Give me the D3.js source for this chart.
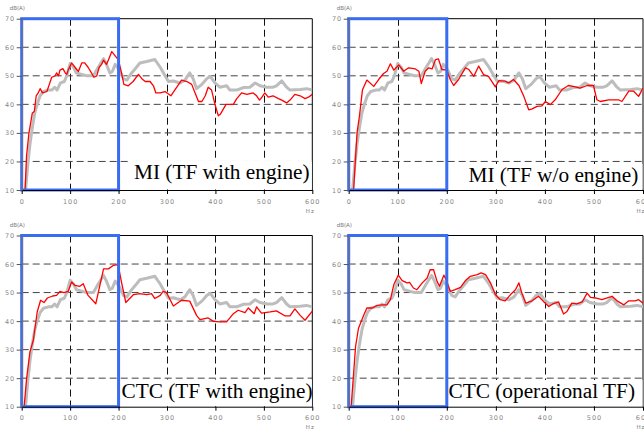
<!DOCTYPE html>
<html>
<head>
<meta charset="utf-8">
<script src="https://cdn.jsdelivr.net/npm/d3@7"></script>
<style>
  body { margin: 0; background: #fff; }
  svg { display: block; }
</style>
</head>
<body>
<div id="chart"></div>
<script>
// measured reference (gray), same in every panel
var freqGray = [8,12,17,22,27,32,38,45,55,62,68,73,80,88,93,100,107,113,124,134,148,158,169,175,182,187,193,202,210,217,227,237,244,258,275,286,296,303,313,327,337,347,354,361,372,382,389,399,409,423,430,444,458,471,482,492,506,519,526,537,547,554,575,588,600];
var dbGray = [10,18,26,32,37,40,43,44.5,45,45,46,45,47.5,48,50,54.3,53,51,50.5,50,50,53,56,54,51,51.5,54,52,49,48.5,51,53,54.5,55,55.7,53,50,48,48.2,47.5,48.5,51,49,45.5,47,49,49.8,47.5,46,46.5,45,45,45.9,46,47.5,46.5,46,46,46.5,48.2,46,45,45.2,45.5,45];

// MI (TF with engine)
var freqMI1 = [7,10,15,22,26,30,34,38,43,52,57,62,69,72,76,79,85,90,93,96,103,110,117,124,130,137,144,149,155,160,165,169,175,179,186,193,200,206,211,220,230,241,248,255,265,272,277,286,296,308,316,330,341,351,358,365,372,379,385,392,399,406,410,415,422,430,437,444,454,465,478,485,491,496,502,509,519,530,537,547,554,564,575,585,592,600];
var dbMI1 = [10,22,30,37,37.5,43,44,45.5,44,44.5,47,49.5,50,51,50,52,52.5,51,50.5,52,54.5,53,51.5,54.5,54.5,53,51,49.5,50,53,54,55.5,54,55.5,58.5,57,55.5,51,47,46.5,48,50.5,49,48,48,46.5,44,44,44.5,43,45,48.5,48,47,44,41,41,43,46,45,40,36,36.5,38,40,40,40,42,44,43.5,44,43,41.5,42.5,44,42.5,43,42,41.5,40.5,41.5,43.5,43,42,42.5,43.5];

// MI (TF w/o engine)
var freqMI2 = [10,17,22,28,37,51,61,71,78,85,92,102,112,122,136,143,148,156,163,170,177,183,190,200,207,214,224,238,245,255,265,275,285,299,306,319,326,336,347,357,367,374,384,394,401,411,421,435,448,462,472,486,499,506,513,530,550,557,571,581,591,600];
var dbMI2 = [10,30,36,45,48.5,46.3,48.7,50.8,51.6,54.2,52,53.8,51.6,52.8,52.4,51.6,47.3,51.6,52.8,52.4,55.7,55.9,52.2,52,48.7,46.6,48.7,52.8,52.2,49.8,53.4,50.4,49.8,46.1,48.3,48.1,47.5,48.7,46.6,42.8,38.1,38.4,39.3,39.5,41,39.9,41.6,45.2,46.6,46.1,45.7,46.6,46.6,41.6,41,41.6,41.6,41,44.6,44.6,42.8,45.7];

// CTC (TF with engine)
var freqCTC1 = [5,10,17,24,32,39,46,53,64,72,79,87,96,103,110,120,127,137,153,169,179,189,199,206,215,231,244,258,268,275,286,292,299,313,330,347,361,368,385,396,409,423,437,447,461,468,480,485,495,513,526,544,554,564,575,585,600];
var dbCTC1 = [10,19.7,29.2,33.3,43.2,47.3,46.5,48.1,48.8,49,50.4,50,50.4,53.7,52.5,52.2,53.1,49,46.1,58.3,58.3,59.5,59.8,53.7,46.5,49.3,49.6,49.3,49.6,47.9,49,50.4,50,45.3,47.3,47,42,40.5,41.1,39.9,39.7,39.7,42.6,43.8,43,44.6,42.6,45,42.8,43.2,43.6,41.8,41.8,44.3,42,40.3,43.5];

// CTC (operational TF)
var freqCTC2 = [5,14,20,31,37,48,58,68,78,85,92,101,109,119,124,132,139,150,160,166,173,180,185,194,200,207,217,228,238,248,262,270,279,289,299,309,319,330,340,347,353,361,374,387,397,408,416,428,438,445,455,465,476,486,493,503,516,527,537,547,561,571,584,591,600];
var dbCTC2 = [10,31.1,37.5,42.2,44.6,44.6,45.5,45.7,45.7,47.5,52.8,56.1,54.2,53.4,53.6,51.6,51,53.4,55.1,58,58,54,52.2,56.1,54,50.4,51,51.8,54.2,55.7,56.3,56.9,56.3,53.4,49.3,47.5,47.1,49.3,51,53.4,49.8,46.3,47.1,48.7,46.9,45.1,46,46.7,42.5,43.4,46.3,46,46.7,49.8,48.3,48.1,47.5,48.1,48.7,47.1,45.7,47.1,47.1,47.5,46.3];

var titles = ["MI (TF with engine)", "MI (TF w/o engine)", "CTC (TF with engine)", "CTC (operational TF)"];
var xTicks = [0, 100, 200, 300, 400, 500, 600];
var yTicks = [10, 20, 30, 40, 50, 60, 70];
var bandLimit = 200; // blue box: 0 .. 200 Hz

var redFreq = [freqMI1, freqMI2, freqCTC1, freqCTC2];
var redDb = [dbMI1, dbMI2, dbCTC1, dbCTC2];

// layout
var cols = [[21.7, 312.3], [348.7, 643]];
var rows = [[18.7, 190], [235.5, 406.7]];
var titleX = [134, 468.5, 121.5, 448.5];
var titleY = [178.5, 182, 397.5, 398];

var svg = d3.select("#chart")
  .append("svg")
  .attr("width", 644)
  .attr("height", 432);

titles.forEach(function (title, i) {
  var c = cols[i % 2], r = rows[Math.floor(i / 2)];
  var x = d3.scaleLinear().domain([0, 600]).range(c);
  var y = d3.scaleLinear().domain([10, 70]).range([r[1], r[0]]);
  var g = svg.append("g");

  g.append("clipPath").attr("id", "clip" + i)
    .append("rect")
    .attr("x", c[0]).attr("y", r[0])
    .attr("width", c[1] - c[0]).attr("height", r[1] - r[0]);

  //grilla punteada
  g.selectAll(".vgrid").data(xTicks.slice(1, -1)).enter()
    .append("line")
    .attr("x1", function (d) { return Math.round(x(d)) + 0.5; })
    .attr("x2", function (d) { return Math.round(x(d)) + 0.5; })
    .attr("y1", r[0]).attr("y2", r[1])
    .attr("stroke", "#111").attr("stroke-dasharray", "7,4");
  g.selectAll(".hgrid").data(yTicks.slice(1, -1)).enter()
    .append("line")
    .attr("x1", c[0]).attr("x2", c[1])
    .attr("y1", function (d) { return y(d); })
    .attr("y2", function (d) { return y(d); })
    .attr("stroke", "#444").attr("stroke-dasharray", "7,4");

  // marco superior y derecho
  g.append("path")
    .attr("d", "M" + c[0] + "," + r[0] + "H" + c[1] + "V" + r[1])
    .attr("fill", "none").attr("stroke", "#000").attr("stroke-width", 1);

  var line = function (fs, vs) {
    return d3.line()
      .x(function (d) { return x(fs[d]); })
      .y(function (d) { return y(vs[d]); })(d3.range(fs.length));
  };

  g.append("path")
    .attr("d", line(freqGray, dbGray))
    .attr("clip-path", "url(#clip" + i + ")")
    .attr("fill", "none").attr("stroke", "#bdbdbd")
    .attr("stroke-width", 3).attr("stroke-linejoin", "round");

  g.append("path")
    .attr("d", line(redFreq[i], redDb[i]))
    .attr("clip-path", "url(#clip" + i + ")")
    .attr("fill", "none").attr("stroke", "#ff0000")
    .attr("stroke-width", 1.3).attr("stroke-linejoin", "round");

  // etiqueta con fondo blanco
  var box = g.append("rect").attr("fill", "#fff");
  var t = g.append("text")
    .attr("x", titleX[i]).attr("y", titleY[i])
    .attr("font-family", "Liberation Serif, Times New Roman, serif")
    .attr("font-size", 21.3)
    .attr("fill", "#000")
    .text(title);
  var bb = t.node().getBBox();
  box.attr("x", bb.x - 3).attr("y", bb.y + 1)
    .attr("width", c[1] - 0.5 - (bb.x - 3))
    .attr("height", r[1] - 0.5 - (bb.y + 1));

  // rectangulo azul 0-200 Hz
  g.append("rect")
    .attr("x", x(0)).attr("y", y(70))
    .attr("width", x(bandLimit) - x(0))
    .attr("height", y(10) - y(70))
    .attr("fill", "none").attr("stroke", "#3a6cf2").attr("stroke-width", 3);

  // ejes
  var ax = g.append("g").attr("transform", "translate(0," + r[1] + ")");
  ax.call(d3.axisBottom(x).tickValues(d3.range(0, 601, 20)).tickSize(3).tickFormat("").tickSizeOuter(0));
  ax.call(d3.axisBottom(x).tickValues(xTicks).tickSize(4).tickPadding(5).tickSizeOuter(0));
  ax.selectAll("path.domain").attr("stroke", "#000");
  ax.selectAll("line").attr("stroke", "#000");

  var ay = g.append("g").attr("transform", "translate(" + c[0] + ",0)");
  ay.call(d3.axisLeft(y).tickValues(d3.range(10, 71, 5)).tickSize(2).tickFormat("").tickSizeOuter(0));
  ay.call(d3.axisLeft(y).tickValues(yTicks).tickSize(5).tickPadding(1.5).tickSizeOuter(0));
  ay.selectAll("path.domain").attr("stroke", "#777");
  ay.selectAll("line").attr("stroke", "#555");

  svg.selectAll(".tick text")
    .attr("font-family", "DejaVu Sans, sans-serif")
    .attr("font-size", 6.5)
    .attr("fill", "#888")
    .style("letter-spacing", "1px");

  g.append("text")
    .attr("x", c[0] - 12).attr("y", r[0] - 8.5)
    .attr("font-family", "DejaVu Sans, sans-serif")
    .attr("font-size", 5.5).attr("fill", "#777")
    .text("dB(A)");
  g.append("text")
    .attr("x", c[1] - 2).attr("y", r[1] + 22.5)
    .attr("text-anchor", "middle")
    .attr("font-family", "DejaVu Sans, sans-serif")
    .attr("font-size", 5.5).attr("fill", "#777")
    .style("letter-spacing", "1px")
    .text("Hz");
});
</script>
</body>
</html>
